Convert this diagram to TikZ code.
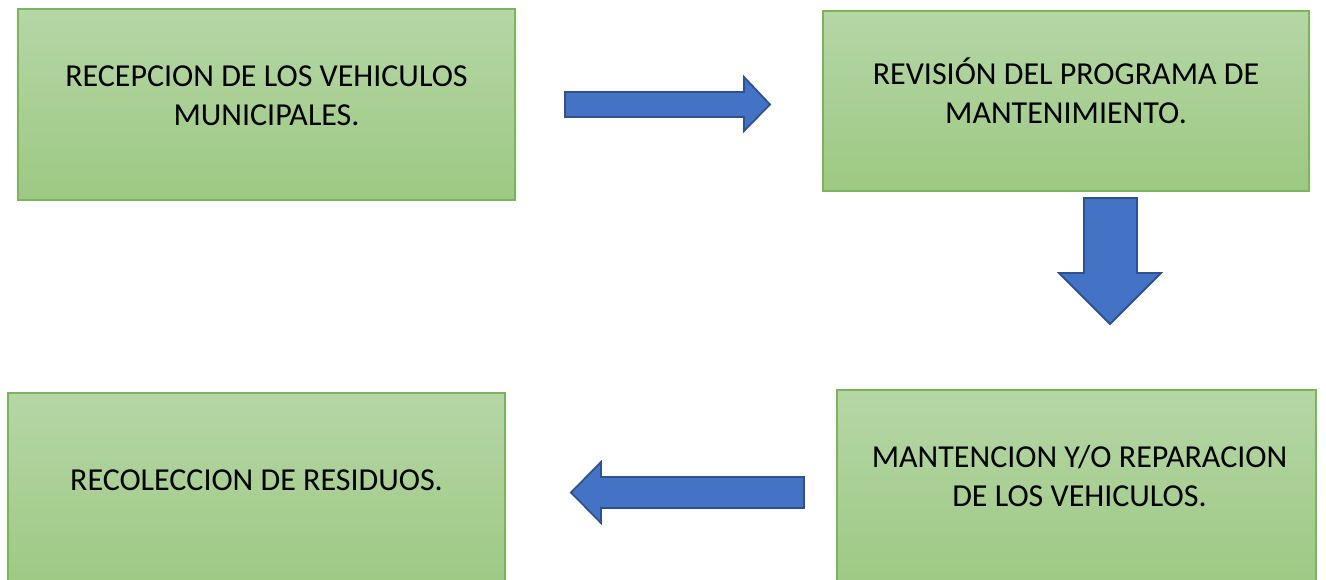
\documentclass[tikz,border=0pt]{standalone}
\usepackage{fontspec}
\setmainfont{Carlito}
\definecolor{gtop}{HTML}{B5D6A6}
\definecolor{gbot}{HTML}{9DC983}
\definecolor{boxline}{HTML}{7AB55C}
\definecolor{arrfill}{HTML}{4472C4}
\definecolor{arrline}{HTML}{2F528F}
\begin{document}
\begin{tikzpicture}[x=1pt,y=-1pt,
  procbox/.style={draw=boxline, line width=1.3pt, top color=gtop, bottom color=gbot, inner sep=0pt, outer sep=0pt},
  lbl/.style={font=\fontsize{32}{39}\selectfont, align=center, inner sep=0pt, text=black},
  blockarrow/.style={fill=arrfill, draw=arrline, line width=1.8pt, line join=miter}]
\useasboundingbox (0,0) rectangle (1326,580);
\clip (0,0) rectangle (1326,580);
\fill[white] (0,0) rectangle (1326,580);
% boxes
\node[procbox, minimum width=497pt, minimum height=191pt] (b1) at (266.5,104.5) {};
\node[procbox, minimum width=486pt, minimum height=180pt] (b2) at (1066,101) {};
\node[procbox, minimum width=479pt, minimum height=200pt] (b3) at (1076.5,490) {};
\node[procbox, minimum width=497pt, minimum height=197pt] (b4) at (256.5,491.5) {};
% labels
\node[lbl] (t1) at (266.5,98) {\strut RECEPCION DE LOS VEHICULOS\\\strut MUNICIPALES.};
\node[lbl] (t2) at (1066,96.5) {\strut REVISIÓN DEL PROGRAMA DE\\\strut MANTENIMIENTO.};
\node[lbl] (t3) at (1079.5,479.5) {\strut MANTENCION Y/O REPARACION\\\strut DE LOS VEHICULOS.};
\node[lbl] (t4) at (256.5,482.5) {\strut RECOLECCION DE RESIDUOS.};
% block arrows
\draw[blockarrow] (565,92) -- (744,92) -- (744,77) -- (770,104.5) -- (744,131) -- (744,117) -- (565,117) -- cycle;
\draw[blockarrow] (1084,198) -- (1137,198) -- (1137,273) -- (1161,273) -- (1110,324) -- (1059,273) -- (1084,273) -- cycle;
\draw[blockarrow] (804,477) -- (601,477) -- (601,462) -- (571,492.5) -- (601,523) -- (601,508) -- (804,508) -- cycle;
\end{tikzpicture}
\end{document}
